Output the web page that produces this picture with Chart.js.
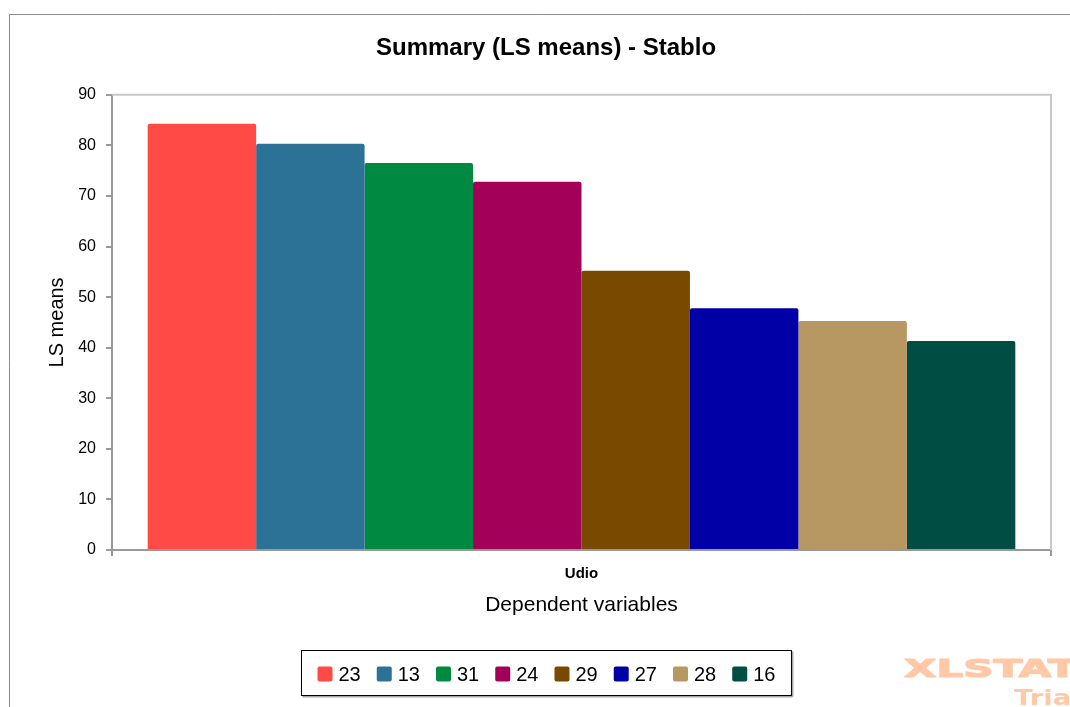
<!DOCTYPE html>
<html><head><meta charset="utf-8">
<script src="https://cdn.jsdelivr.net/npm/chart.js@4.4.0/dist/chart.umd.min.js"></script>
<style>html,body{margin:0;padding:0;background:#fff;}#wrap{position:relative;width:1070px;height:707px;}</style>
</head><body><div id="wrap"><canvas id="c" width="1070" height="707"></canvas></div>
<script>
const chartTitle = 'Summary (LS means) - Stablo';
const categories = ['Udio'];
const seriesLabels = ['23', '13', '31', '24', '29', '27', '28', '16'];
const seriesValues = [84.3, 80.3, 76.5, 72.8, 55.2, 47.8, 45.3, 41.3];
const seriesColors = ['#FF4A46', '#2B7296', '#008940', '#A30059', '#7A4900', '#0000A6', '#B79762', '#004D43'];
const yTickValues = [0, 10, 20, 30, 40, 50, 60, 70, 80, 90];
const yTitle = 'LS means';
const xTitle = 'Dependent variables';

const FONT = "'Liberation Sans', Arial, sans-serif";

const datasets = seriesLabels.map((lab, i) => ({
  label: lab,
  data: [seriesValues[i]],
  backgroundColor: seriesColors[i],
  borderWidth: 0,
  borderRadius: {topLeft: 2, topRight: 2, bottomLeft: 0, bottomRight: 0},
  borderSkipped: 'bottom',
  barPercentage: 1.0,
  categoryPercentage: 0.924
}));

const framePlugin = {
  id: 'frame',
  beforeDraw(chart) {
    const ctx = chart.ctx;
    ctx.save();
    ctx.fillStyle = '#fff';
    ctx.fillRect(0, 0, chart.width, chart.height);
    ctx.strokeStyle = '#8c8c8c';
    ctx.lineWidth = 1;
    ctx.beginPath();
    ctx.moveTo(9.5, chart.height);
    ctx.lineTo(9.5, 14.5);
    ctx.lineTo(chart.width, 14.5);
    ctx.stroke();
    ctx.restore();
  },
  beforeDatasetsDraw(chart) {
    const a = chart.chartArea, ctx = chart.ctx;
    ctx.save();
    ctx.strokeStyle = '#c8c8c8';
    ctx.lineWidth = 2;
    ctx.beginPath();
    ctx.moveTo(a.left, a.top);
    ctx.lineTo(a.right, a.top);
    ctx.lineTo(a.right, a.bottom);
    ctx.stroke();
    ctx.restore();
  },
  afterDraw(chart) {
    const ctx = chart.ctx;
    ctx.save();
    // legend
    ctx.font = '20px ' + FONT;
    const box = 15, gap = 6, spacing = 16, padX = 16;
    const items = chart.data.datasets.map(d => ({label: d.label, color: d.backgroundColor, w: ctx.measureText(d.label).width}));
    let total = padX * 2;
    items.forEach((it, i) => { total += box + gap + it.w + (i < items.length - 1 ? spacing : 0); });
    const cx = 545.5;
    const bx = Math.round(cx - total / 2) + 0.5;
    const by = 650.5, bh = 45;
    ctx.strokeStyle = '#000';
    ctx.lineWidth = 1;
    ctx.strokeRect(bx, by, total, bh);
    ctx.fillStyle = 'rgba(0,0,0,0.35)';
    ctx.fillRect(bx + 1, by + bh + 0.5, total, 1.5);
    ctx.fillRect(bx + total + 0.5, by + 1, 1.5, bh);
    let x = bx + padX;
    const cy = by + bh / 2 + 1;
    ctx.textBaseline = 'middle';
    ctx.textAlign = 'left';
    items.forEach(it => {
      ctx.fillStyle = it.color;
      ctx.beginPath();
      if (ctx.roundRect) ctx.roundRect(x, cy - box / 2, box, box, 2); else ctx.rect(x, cy - box / 2, box, box);
      ctx.fill();
      ctx.fillStyle = '#000';
      ctx.fillText(it.label, x + box + gap, cy + 1);
      x += box + gap + it.w + spacing;
    });
    // watermark
    const wm = 'rgb(255,200,166)';
    ctx.fillStyle = wm;
    ctx.strokeStyle = wm;
    ctx.lineJoin = 'round';
    ctx.textBaseline = 'alphabetic';
    ctx.save();
    ctx.translate(904, 677);
    ctx.scale(1.75, 1);
    ctx.font = 'bold 24px "DejaVu Sans", ' + FONT;
    ctx.lineWidth = 1.2;
    ctx.fillText('XLSTAT', 0, 0);
    ctx.strokeText('XLSTAT', 0, 0);
    ctx.restore();
    ctx.save();
    ctx.translate(1014, 705);
    ctx.scale(1.25, 1);
    ctx.font = 'bold 22px "DejaVu Sans", ' + FONT;
    ctx.fillText('Tria', 0, 0);
    ctx.restore();
    ctx.restore();
  }
};

new Chart(document.getElementById('c'), {
  type: 'bar',
  data: {labels: categories, datasets},
  options: {
    responsive: false,
    animation: false,
    devicePixelRatio: 1,
    layout: {padding: {left: 41, right: 19, top: 0, bottom: 87}},
    plugins: {
      legend: {display: false},
      tooltip: {enabled: false},
      title: {
        display: true,
        text: chartTitle,
        color: '#000',
        font: {family: FONT, size: 24, weight: 'bold'},
        padding: {top: 34, bottom: 32}
      }
    },
    scales: {
      x: {
        type: 'category',
        offset: true,
        z: 1,
        grid: {display: true, drawOnChartArea: false, drawTicks: true, tickLength: 6, color: '#999', lineWidth: 2, offset: true},
        border: {display: true, color: '#999', width: 2},
        ticks: {color: '#000', font: {family: FONT, size: 15, weight: 'bold'}, padding: 9},
        title: {display: true, text: xTitle, color: '#000', font: {family: FONT, size: 21}, padding: {top: 0, bottom: 2}},
        afterFit(s) { s.height = 70; }
      },
      y: {
        min: 0,
        max: 90,
        afterBuildTicks(s) { s.ticks = yTickValues.map(v => ({value: v})); },
        grid: {display: true, drawOnChartArea: false, drawTicks: true, tickLength: 6, color: '#999', lineWidth: 2},
        border: {display: true, color: '#999', width: 2},
        ticks: {color: '#000', font: {family: FONT, size: 16}, padding: 10},
        title: {display: true, text: yTitle, color: '#000', font: {family: FONT, size: 20}, padding: {top: 4, bottom: 0}},
        afterFit(s) { s.width = 71; }
      }
    }
  },
  plugins: [framePlugin]
});
</script>
</body></html>
